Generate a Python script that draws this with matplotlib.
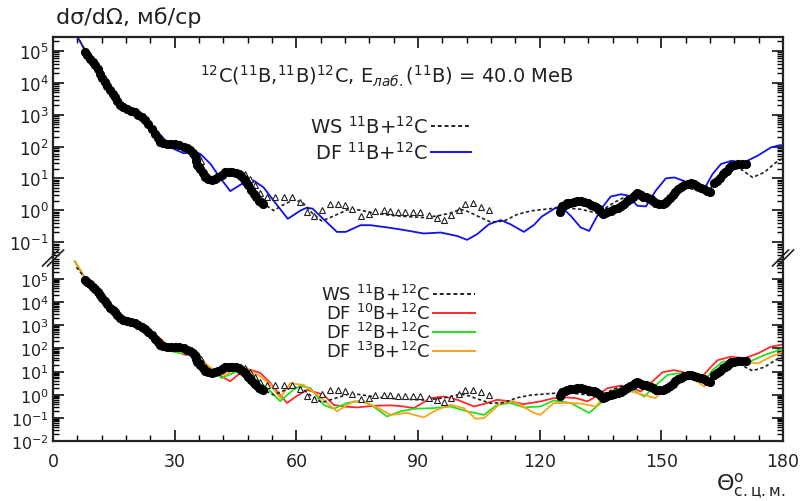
import numpy as np
import matplotlib
matplotlib.use("Agg")
import matplotlib.pyplot as plt
from matplotlib.lines import Line2D
from matplotlib.ticker import LogLocator, MultipleLocator, NullFormatter, FixedLocator

plt.rcParams['font.family'] = ['DejaVu Sans']
plt.rcParams['mathtext.fontset'] = 'dejavusans'

# ---- data (angles in degrees, cross sections as log10) ----
exp_fwd_theta = [7.9, 8.5, 9.1, 9.8, 10.4, 11.0, 11.6, 12.2, 12.8, 13.4, 14.1, 14.7, 15.3, 15.9, 16.5,
                 17.3, 18.2, 19.2, 20.2, 21.0, 21.9, 22.7, 23.5, 24.3, 25.2, 25.8, 26.4, 27.2, 28.1,
                 29.1, 30.1, 31.1, 32.2, 33.0, 33.8, 34.5, 35.1, 35.3, 35.5, 35.9, 36.3, 36.9, 37.5,
                 38.3, 39.2, 40.0, 40.8, 41.6, 42.5, 43.3, 44.1, 45.0, 45.8, 46.4, 47.0, 47.6, 48.2,
                 48.8, 49.5, 50.1, 50.7, 51.3, 51.9]
exp_fwd_log = [4.97, 4.87, 4.76, 4.66, 4.55, 4.42, 4.29, 4.16, 4.03, 3.90, 3.76, 3.66, 3.55, 3.42, 3.29,
               3.23, 3.19, 3.13, 3.08, 3.00, 2.92, 2.82, 2.71, 2.56, 2.40, 2.27, 2.14, 2.10, 2.07,
               2.07, 2.07, 2.04, 2.00, 1.95, 1.88, 1.80, 1.69, 1.55, 1.41, 1.35, 1.30, 1.17, 1.04,
               0.98, 0.95, 0.99, 1.04, 1.12, 1.20, 1.21, 1.20, 1.18, 1.14, 1.07, 0.98, 0.88, 0.78,
               0.65, 0.51, 0.40, 0.30, 0.25, 0.20]

exp_bwd_theta = [125.0, 125.3, 125.6, 126.2, 126.8, 127.6, 128.5, 129.3, 130.1, 131.0, 131.8, 132.6,
                 133.4, 134.0, 134.6, 135.1, 135.5, 136.1, 136.7, 137.5, 138.3, 139.2, 140.0, 140.8,
                 141.6, 142.3, 142.9, 143.4, 143.9, 144.4, 144.9, 145.6, 146.2, 146.8, 147.4, 148.0,
                 148.6, 149.4, 150.3, 150.9, 151.5, 152.1, 152.8, 153.4, 154.0, 154.8, 155.6, 156.5,
                 157.3, 158.1, 158.9, 159.7, 160.6, 161.3, 162.0, 162.9, 163.8, 164.5, 165.1, 165.7,
                 166.3, 166.8, 167.2, 168.0, 168.8, 169.8, 170.9]
exp_bwd_log = [-0.05, 0.05, 0.12, 0.18, 0.22, 0.24, 0.26, 0.28, 0.29, 0.26, 0.22, 0.18,
               0.14, 0.10, 0.05, -0.05, -0.13, -0.08, -0.05, -0.01, 0.03, 0.08, 0.12, 0.20,
               0.29, 0.36, 0.43, 0.49, 0.53, 0.50, 0.47, 0.43, 0.40, 0.38, 0.35, 0.29,
               0.22, 0.20, 0.19, 0.23, 0.29, 0.38, 0.47, 0.57, 0.66, 0.73, 0.79, 0.83,
               0.87, 0.82, 0.76, 0.71, 0.66, 0.61, 0.56, 0.87, 0.92, 1.02, 1.13, 1.19,
               1.24, 1.32, 1.39, 1.42, 1.45, 1.46, 1.45]

tri_theta = [35.7, 36.5, 47.4, 48.6, 49.9, 51.1, 52.8, 54.8, 56.9, 58.9, 61.0, 62.6, 64.4, 66.3,
             68.2, 70.2, 71.9, 73.8, 76.0, 77.9, 79.5, 81.6, 83.2, 85.0, 86.9, 88.8, 90.6, 92.7,
             94.6, 96.4, 98.2, 100.1, 101.7, 103.6, 105.6, 107.5]
tri_log = [1.72, 1.55, 1.13, 0.97, 0.78, 0.55, 0.42, 0.40, 0.42, 0.40, 0.26, -0.04, -0.18, 0.02,
           0.19, 0.20, 0.15, 0.03, -0.18, -0.13, -0.02, 0.00, -0.02, -0.04, -0.04, -0.04, -0.05, -0.16,
           -0.23, -0.31, -0.16, 0.01, 0.19, 0.22, 0.10, 0.00]

ws_theta = [5.8, 8, 10, 12, 14, 16, 18, 20, 22, 24, 26, 28, 30, 32, 34, 35.5, 37, 38.5, 40, 42, 44,
            46, 48, 50, 52, 54.4, 56.5, 59.3, 61.5, 64, 66.3, 69.2, 72.9, 75.4, 79.1, 83.2, 87.3,
            91.4, 94.7, 98.0, 100.5, 102.5, 104.6, 107.9, 111.2, 114.5, 117.8, 122.7, 126, 130.1,
            134.2, 136, 138.3, 140.8, 142.5, 144.9, 147.4, 148.6, 150.7, 154, 156.5, 158.9, 161.4,
            163.8, 166.3, 169.6, 172.5, 175.4, 178.7, 180]
ws_log = [5.5, 5.0, 4.5, 4.15, 3.8, 3.4, 3.15, 3.05, 2.85, 2.6, 2.25, 2.05, 2.05, 2.0, 1.85, 1.65,
          1.35, 1.1, 1.0, 1.1, 1.15, 1.1, 0.9, 0.55, 0.2, -0.01, 0.15, 0.33, 0.25, -0.1, -0.34,
          -0.18, 0.03, 0.01, -0.09, -0.16, -0.20, -0.23, -0.18, -0.09, 0.03, -0.05, -0.18, -0.37,
          -0.34, -0.13, -0.02, 0.05, 0.08, 0.03, -0.09, 0.05, 0.24, 0.40, 0.45, 0.35, 0.22, 0.05,
          0.24, 0.66, 0.71, 0.61, 0.53, 1.03, 1.34, 1.29, 1.03, 1.19, 1.55, 1.62]

df11_theta = [5.8, 8, 10, 12, 14, 15.7, 18, 20, 22.3, 24.8, 27.7, 29.7, 32.2, 34.6, 36.3, 38.8, 40.8,
              43.7, 46.6, 49.5, 51.9, 54.4, 57.9, 61.0, 62.6, 64.0, 66.7, 70.0, 72.2, 75.8, 78.3,
              82.4, 86.5, 91.4, 95.6, 99.7, 102.1, 104.6, 107.5, 110.4, 112.8, 116.1, 118.6, 120.5,
              124.0, 125.2, 127.7, 130.1, 132.2, 135.1, 137.5, 140.0, 141.6, 144.1, 146.2, 148.6,
              151.1, 153.2, 155.6, 158.1, 160.2, 162.6, 164.7, 167.2, 170.4, 173.7, 177.0, 179.1, 180]
df11_log = [5.5, 5.0, 4.5, 4.15, 3.8, 3.55, 3.2, 3.05, 2.87, 2.61, 2.19, 1.93, 1.79, 1.82, 1.77, 1.46,
            1.09, 0.60, 0.83, 0.93, 0.72, 0.30, -0.27, -0.01, 0.08, 0.05, -0.28, -0.68, -0.68, -0.47,
            -0.47, -0.54, -0.62, -0.73, -0.70, -0.81, -0.93, -0.75, -0.44, -0.31, -0.44, -0.68, -0.46,
            -0.20, 0.08, 0.12, -0.18, -0.54, -0.65, 0.03, 0.43, 0.50, 0.47, 0.14, 0.12, 0.61,
            1.0, 1.03, 0.92, 0.71, 0.58, 1.13, 1.45, 1.55, 1.50, 1.71, 1.97, 2.04, 2.04]

df10_theta = [5.4, 8, 10, 12, 14, 16, 18, 20, 22, 23.5, 27.2, 29.7, 32.6, 35.1, 38.3, 41.2, 43.7, 46.2,
              48.6, 51.1, 53.2, 55.2, 57.7, 59.4, 62.6, 66.7, 69.2, 71.7, 75.0, 79.1, 83.2, 86.0,
              89.0, 93.1, 96.4, 99.7, 103.8, 107.1, 109.5, 112.8, 116.1, 120.2, 123.5, 126.8, 129.0,
              131.8, 134.2, 136.7, 140.0, 142.5, 144.9, 147.8, 150.3, 153.2, 156.5, 159.8, 161.9,
              163.9, 167.2, 170.5, 173.8, 177.0, 180]
df10_log = [5.75, 5.0, 4.5, 4.15, 3.8, 3.45, 3.2, 3.05, 2.9, 2.87, 2.30, 1.91, 1.72, 1.79, 1.22, 0.82,
            0.58, 0.94, 1.08, 0.94, 0.58, 0.15, -0.36, -0.14, 0.21, 0.0, -0.44, -0.51, -0.55, -0.48,
            -0.46, -0.50, -0.58, -0.15, -0.08, -0.22, -0.51, -0.36, -0.22, -0.29, -0.41, -0.29,
            -0.15, -0.12, -0.15, -0.29, -0.05, 0.28, 0.39, 0.31, 0.14, 0.57, 0.97, 1.06, 0.92, 0.71,
            1.14, 1.49, 1.64, 1.57, 1.78, 2.07, 2.17]

df12_theta = [5.4, 8, 10, 12, 14, 16, 18, 20, 22, 24, 26.4, 29.3, 31.4, 34.6, 37.9, 41.6, 42.9, 45.4,
              47.8, 50.3, 52.8, 56.0, 59.3, 61.0, 63.5, 66.7, 69.2, 72.5, 75.8, 78.5, 82.4, 85.7,
              89.0, 93.9, 98.0, 102.1, 106.3, 109.5, 112.8, 116.1, 120.2, 123.5, 127.7, 132.2, 135.5,
              138.3, 140.8, 143.3, 145.8, 148.3, 151.5, 154.0, 157.3, 160.6, 162.6, 165.1, 168.8,
              171.7, 175.4, 180]
df12_log = [5.75, 5.0, 4.5, 4.15, 3.8, 3.45, 3.2, 3.05, 2.9, 2.65, 2.15, 1.87, 1.79, 1.79, 1.22, 0.72,
            0.82, 1.01, 1.01, 0.65, 0.29, -0.28, 0.22, 0.38, 0.28, -0.44, -0.61, -0.36, -0.27, -0.45,
            -0.94, -0.72, -0.61, -0.58, -0.51, -0.72, -0.87, -0.44, -0.36, -0.55, -0.51, -0.25,
            -0.36, -0.79, -0.29, 0.21, 0.31, 0.16, -0.08, 0.35, 0.85, 0.92, 0.78, 0.57, 1.06, 1.42,
            1.49, 1.42, 1.71, 1.99]

df13_theta = [5.4, 8, 10, 12, 14, 16, 18, 20, 22, 24, 26.4, 29.7, 32.2, 34.6, 37.9, 40.8, 42.5, 44.9,
              47.8, 50.7, 53.6, 56.0, 58.5, 61.8, 65.1, 70.0, 74.1, 76.6, 79.9, 83.2, 87.3, 91.4,
              94.7, 98.0, 101.3, 104.2, 106.3, 110.4, 113.7, 118.6, 120.2, 123.5, 126.8, 130.0,
              133.8, 136.7, 139.2, 142.5, 145.5, 148.6, 150.7, 153.2, 156.5, 160.6, 162.6, 166.3,
              170.5, 173.8, 177.0, 180]
df13_log = [5.75, 5.0, 4.5, 4.15, 3.8, 3.45, 3.2, 3.05, 2.9, 2.7, 2.3, 1.91, 1.82, 1.86, 1.30, 0.91,
            0.84, 1.15, 1.15, 0.84, 0.44, -0.14, 0.49, 0.42, 0.0, -0.72, -0.29, -0.29, -0.55, -0.87,
            -0.79, -0.98, -0.65, -0.44, -0.58, -1.04, -1.01, -0.36, -0.29, -0.79, -0.87, -0.36,
            -0.36, -0.38, -0.51, 0.06, 0.21, 0.14, 0.0, -0.15, 0.28, 0.71, 0.85, 0.35, 0.78, 1.35,
            1.42, 1.35, 1.64, 1.85]

top_decades = [-1, 0, 1, 2, 3, 4, 5]
bot_decades = [-2, -1, 0, 1, 2, 3, 4, 5]

W, H = 801, 502
fig = plt.figure(figsize=(W / 100, H / 100), dpi=100)

def fx(px):
    return px / W

def fy(py):
    return 1 - py / H

x0, x1 = 53, 783
ax_top = fig.add_axes([fx(x0), fy(259), fx(x1) - fx(x0), fy(38) - fy(259)])
ax_bot = fig.add_axes([fx(x0), fy(442), fx(x1) - fx(x0), fy(259) - fy(442)])

def lg(v):
    return 10 ** np.array(v, dtype=float)

blue = '#1010f0'
red = '#ff2a2a'
green = '#22e022'
orange = '#ffa31a'
ws_dash = (0, (2.0, 1.5))

for ax in (ax_top, ax_bot):
    ax.plot(ws_theta, lg(ws_log), color='#202020', ls=ws_dash, lw=1.2, zorder=3)
    ax.plot(tri_theta, lg(tri_log), ls='none', marker='^', ms=4.8, mfc='white',
            mec='#202020', mew=0.8, zorder=4)

ax_top.plot(df11_theta, lg(df11_log), color=blue, lw=1.3, zorder=2)
ax_bot.plot(df10_theta, lg(df10_log), color=red, lw=1.3, zorder=2)
ax_bot.plot(df12_theta, lg(df12_log), color=green, lw=1.3, zorder=2)
ax_bot.plot(df13_theta, lg(df13_log), color=orange, lw=1.3, zorder=2)

for ax in (ax_top, ax_bot):
    for th, lv in ((exp_fwd_theta, exp_fwd_log), (exp_bwd_theta, exp_bwd_log)):
        ax.plot(th, lg(lv), ls='none', marker='o', ms=5.6, color='black', zorder=5)

ax_top.set_ylim(10 ** -1.5, 10 ** 5.44)
ax_bot.set_ylim(1e-2, 10 ** 5.9)

for ax, decs in ((ax_top, top_decades), (ax_bot, bot_decades)):
    ax.set_yscale('log')
    ax.set_xlim(0, 180)
    ax.xaxis.set_major_locator(MultipleLocator(30))
    ax.xaxis.set_minor_locator(MultipleLocator(6))
    ax.yaxis.set_major_locator(FixedLocator(lg(decs)))
    ax.yaxis.set_minor_locator(LogLocator(base=10, subs=np.arange(2, 10), numticks=20))
    ax.yaxis.set_minor_formatter(NullFormatter())
    ax.tick_params(axis='both', which='major', direction='in', length=8, width=1.3,
                   labelsize=12, colors='#222222')
    ax.tick_params(axis='both', which='minor', direction='in', length=4, width=1.0)
    ax.tick_params(axis='y', which='both', left=True, right=True)
    ax.tick_params(axis='y', which='major', pad=3)
    for sp in ax.spines.values():
        sp.set_linewidth(1.6)
        sp.set_color('#222222')

ax_bot.tick_params(axis='y', which='major', labelsize=11.5)

ax_top.spines['bottom'].set_visible(False)
ax_top.tick_params(axis='x', which='both', bottom=False, top=True, labelbottom=False)
ax_bot.spines['top'].set_visible(False)
ax_bot.tick_params(axis='x', which='both', bottom=True, top=False, pad=8)
ax_bot.tick_params(axis='x', labelsize=12.5)

# axis break marks
for bx in (x0, x1):
    for dx in (-2.5, 2.5):
        fig.add_artist(Line2D([fx(bx - 8 + dx), fx(bx + 8 + dx)], [fy(267), fy(251)],
                              color='#222222', lw=1.2))

# texts
fig.text(fx(56), fy(18), 'dσ/dΩ, мб/ср', fontsize=16, va='center', ha='left', color='#222222')
fig.text(fx(387), fy(76),
         r'$^{12}$C($^{11}$B,$^{11}$B)$^{12}$C, E$_{лаб.}$($^{11}$B) = 40.0 MeB',
         fontsize=14, ha='center', va='center', color='#222222')
fig.text(fx(716), fy(486), r'$\Theta^{\mathrm{o}}_{\mathrm{с.ц.м.}}$', fontsize=16,
         ha='left', va='center', color='#222222')

# legend entries
top_rows = [(r'WS $^{11}$B+$^{12}$C', 127, dict(color='#202020', ls=ws_dash)),
            (r'DF $^{11}$B+$^{12}$C', 153, dict(color=blue))]
bot_rows = [(r'WS $^{11}$B+$^{12}$C', 295, dict(color='#202020', ls=ws_dash)),
            (r'DF $^{10}$B+$^{12}$C', 314, dict(color=red)),
            (r'DF $^{12}$B+$^{12}$C', 333, dict(color=green)),
            (r'DF $^{13}$B+$^{12}$C', 352, dict(color=orange))]
for rows, lx0, lx1, fs in ((top_rows, 431, 471, 14), (bot_rows, 433, 475, 13)):
    for label, yy, style in rows:
        fig.text(fx(lx0 - 3), fy(yy), label, fontsize=fs, ha='right', va='center',
                 color='#222222')
        fig.add_artist(Line2D([fx(lx0), fx(lx1)], [fy(yy), fy(yy)], lw=1.4, **style))

fig.savefig('out.png', dpi=100)
